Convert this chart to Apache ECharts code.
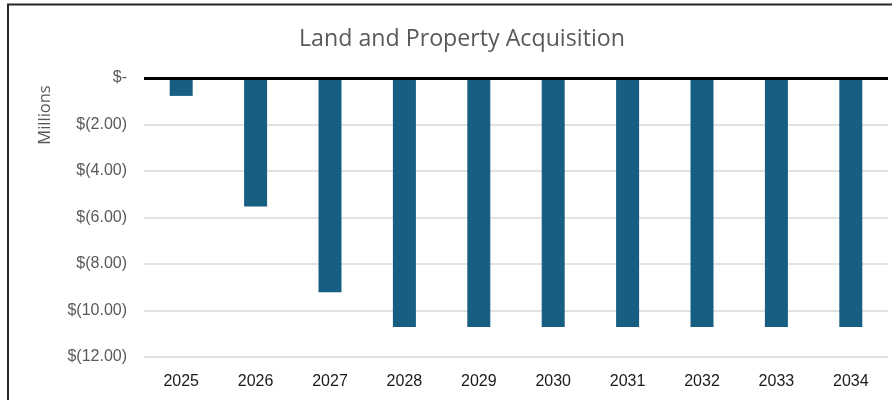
<!doctype html>
<html>
    <head>
        <meta charset="utf-8">
        <style>
            html, body { margin: 0; padding: 0; background: #fff; }
            #main { width: 892px; height: 400px; }
        </style>
    </head>
    <body>
        <div id="main"></div>
        <script src="https://cdn.jsdelivr.net/npm/echarts@6/dist/echarts.min.js"></script>
        <script>
            var chart = echarts.init(document.getElementById('main'));

            // values, in millions
            var years = ['2025', '2026', '2027', '2028', '2029', '2030', '2031', '2032', '2033', '2034'];
            var acquisition = [-0.77, -5.53, -9.22, -10.71, -10.71, -10.71, -10.71, -10.71, -10.71, -10.71];
            var yTicks = { min: -12, max: 0, interval: 2 };

            var fmt = function (v) {
                if (v === 0) return '$-';
                return '$(' + Math.abs(v).toFixed(2) + ')';
            };

            chart.setOption({
                animation: false,
                textStyle: { fontFamily: 'Liberation Sans' },
                title: {
                    text: 'Land and Property Acquisition',
                    left: 294,
                    top: 23,
                    textStyle: {
                        fontFamily: 'Open Sans',
                        fontSize: 23.2,
                        fontWeight: 'normal',
                        color: '#595959'
                    }
                },
                graphic: [
                    {
                        // chart frame
                        type: 'rect',
                        shape: { x: 8, y: 4.5, width: 900, height: 420 },
                        style: { fill: 'none', stroke: '#262626', lineWidth: 2 },
                        silent: true
                    },
                    {
                        type: 'text',
                        x: 45,
                        y: 115,
                        rotation: Math.PI / 2,
                        style: {
                            text: 'Millions',
                            fontFamily: 'Open Sans',
                            fontSize: 16.5,
                            fill: '#595959',
                            align: 'center',
                            verticalAlign: 'middle'
                        }
                    }
                ],
                grid: {
                    left: 144,
                    right: 4,
                    top: 78,
                    bottom: 43
                },
                xAxis: {
                    type: 'category',
                    data: years,
                    position: 'bottom',
                    axisLine: { show: false, onZero: false },
                    axisTick: { show: false },
                    axisLabel: {
                        color: '#1a1a1a',
                        fontSize: 16,
                        margin: 17
                    }
                },
                yAxis: {
                    type: 'value',
                    min: yTicks.min,
                    max: yTicks.max,
                    interval: yTicks.interval,
                    axisLine: { show: false },
                    axisTick: { show: false },
                    axisLabel: {
                        color: '#595959',
                        fontSize: 16,
                        margin: 17,
                        formatter: fmt
                    },
                    splitLine: {
                        lineStyle: { color: '#d9d9d9', width: 1.5 }
                    }
                },
                series: [{
                    type: 'bar',
                    data: acquisition,
                    barWidth: 23,
                    itemStyle: { color: '#175f82' },
                    markLine: {
                        silent: true,
                        symbol: 'none',
                        label: { show: false },
                        lineStyle: { color: '#000', width: 3, type: 'solid' },
                        data: [{ yAxis: 0 }]
                    }
                }]
            });

            window.addEventListener('resize', function () {
                chart.resize();
            });
        </script>
    </body>
</html>
